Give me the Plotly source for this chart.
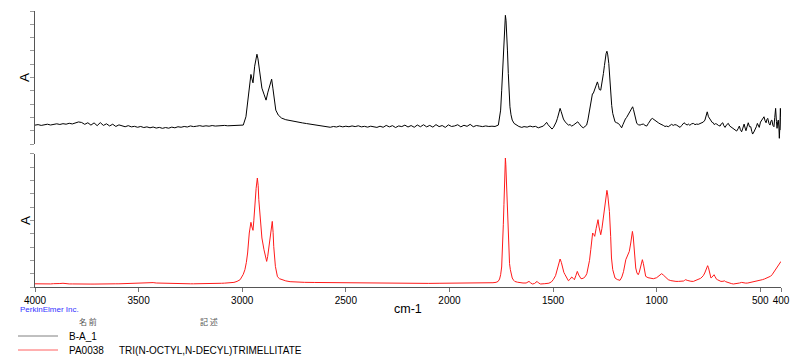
import plotly.graph_objects as go

# ---------------- data ----------------
# black spectrum (B-A_1), noisy baseline 4000-3010 cm-1 sampled every 15 cm-1
black_base1_wn = list(range(4000, 3009, -15))
black_base1_abs = [
    14.2, 14.6, 14.0, 14.5, 14.9, 14.3, 14.8, 15.2,
    14.7, 15.3, 14.9, 15.6, 15.1, 15.8, 16.6, 16.2,
    14.8, 16.0, 14.2, 15.9, 13.8, 16.1, 14.0, 15.2,
    13.6, 14.9, 13.2, 14.4, 13.5, 13.0, 13.8, 12.9,
    13.3, 12.6, 13.2, 12.4, 12.9, 12.2, 12.8, 12.0,
    12.5, 11.8, 12.4, 11.9, 12.7, 12.2, 13.0, 12.6,
    13.2, 12.8, 13.6, 13.1, 13.4, 13.8, 13.3, 13.7,
    13.4, 13.9, 13.5, 13.8, 13.6, 14.0, 13.7, 13.9,
    13.8, 14.0, 14.1,
]
black_ch = [
    (2995, 14.25), (2982, 20.5), (2971, 35.5), (2962, 49.3), (2958, 52.3), (2953, 49.0),
    (2948, 46.0), (2940, 58.5), (2933, 66.0), (2929, 67.5), (2924, 64.0), (2918, 56.0),
    (2912, 48.0), (2905, 42.0), (2895, 37.5), (2885, 33.0), (2876, 39.0), (2868, 44.0),
    (2858, 48.75), (2852, 42.0), (2845, 31.5), (2838, 25.5), (2826, 21.75), (2810, 19.5),
    (2790, 18.3), (2770, 17.6), (2750, 16.8), (2730, 16.3), (2710, 15.9), (2690, 15.4),
    (2670, 15.0), (2650, 14.6), (2630, 14.2), (2610, 13.4), (2590, 13.0),
]
black_base2_wn = list(range(2575, 1794, -15))
black_base2_abs = [
    12.6, 13.2, 12.8, 13.5, 12.9, 13.4, 13.0, 13.6,
    13.1, 13.7, 12.9, 13.3, 12.7, 13.4, 13.0, 12.5,
    13.4, 12.6, 14.0, 12.9, 13.8, 12.4, 13.6, 13.1,
    14.2, 12.8, 13.9, 12.6, 14.3, 13.0, 14.5, 12.9,
    14.0, 12.7, 14.6, 13.1, 13.9, 12.5, 14.4, 13.2,
    13.6, 14.5, 12.9, 14.1, 13.3, 14.8, 13.0, 13.9,
    13.5, 13.1, 13.6, 13.2, 13.4,
]
black_fp = [
    (1780, 13.2), (1764, 14.25), (1753, 25.5), (1748, 40.0), (1743, 58.0), (1739, 75.0),
    (1735, 88.0), (1730, 96.75), (1727, 93.0), (1724, 85.5), (1720, 70.0), (1716, 53.0),
    (1712, 38.0), (1708, 28.0), (1703, 22.0), (1697, 18.0), (1688, 15.5), (1676, 14.25),
    (1665, 13.2), (1651, 12.5), (1640, 13.1), (1625, 12.7), (1611, 13.5), (1598, 12.9),
    (1585, 13.3), (1571, 12.2), (1560, 12.9), (1547, 13.5), (1538, 15.0), (1531, 16.3),
    (1524, 14.5), (1518, 13.5), (1511, 12.0), (1505, 11.25), (1498, 12.5), (1491, 14.25),
    (1485, 16.5), (1479, 19.3), (1472, 24.0), (1466, 26.8), (1461, 24.5), (1457, 21.75),
    (1450, 18.8), (1442, 16.7), (1434, 15.3), (1426, 14.25), (1418, 14.6), (1410, 13.5),
    (1402, 14.2), (1394, 15.0), (1387, 16.0), (1381, 16.7), (1375, 15.5), (1370, 14.25),
    (1362, 13.0), (1354, 12.2), (1346, 13.0), (1338, 14.25), (1332, 18.0), (1325, 25.5),
    (1319, 32.0), (1314, 36.75), (1310, 37.8), (1306, 38.0), (1302, 39.5), (1298, 41.8),
    (1292, 44.5), (1286, 46.7), (1281, 44.0), (1277, 41.0), (1270, 40.5), (1264, 45.0),
    (1257, 53.0), (1252, 59.0), (1248, 64.3), (1244, 68.0), (1240, 69.75), (1236, 67.0),
    (1231, 60.5), (1226, 48.0), (1222, 38.0), (1217, 29.0), (1212, 23.0), (1206, 19.0),
    (1201, 16.7), (1193, 16.0), (1185, 15.5), (1177, 14.0), (1169, 12.2), (1163, 14.5),
    (1158, 16.7), (1151, 18.8), (1145, 20.0), (1137, 22.0), (1129, 24.2), (1122, 26.5),
    (1116, 28.0), (1112, 26.0), (1108, 23.0), (1102, 18.5), (1096, 15.5), (1088, 14.5),
    (1080, 14.25), (1072, 14.8), (1064, 15.0), (1056, 14.0), (1048, 13.5), (1040, 15.5),
    (1032, 18.0), (1026, 18.8), (1021, 19.3), (1015, 18.5), (1008, 17.5), (1000, 16.5),
    (992, 16.0), (984, 15.2), (976, 14.25), (968, 14.0), (960, 13.2), (952, 13.5),
    (944, 13.0), (936, 14.2), (928, 14.8), (920, 14.0), (912, 14.6), (904, 14.25),
    (896, 13.3), (887, 12.5), (880, 13.8), (874, 14.9), (868, 16.0), (860, 15.0),
    (853, 14.3), (847, 15.0), (840, 14.1), (831, 15.2), (823, 15.5), (815, 14.6),
    (807, 15.0), (799, 14.8), (791, 15.5), (783, 16.0), (775, 16.5), (767, 18.0),
    (761, 21.0), (756, 24.2), (750, 20.5), (743, 18.5), (737, 17.5), (732, 16.2),
    (727, 16.0), (722, 14.6), (716, 15.3), (710, 15.0), (702, 14.0), (694, 13.5),
    (688, 15.2), (681, 16.0), (676, 13.8), (670, 12.5), (662, 14.6), (654, 15.5),
    (648, 13.6), (643, 13.0), (636, 12.5), (630, 11.8), (622, 11.0), (614, 9.75),
    (607, 11.5), (601, 13.5), (596, 10.8), (590, 9.2), (584, 12.0), (578, 15.0),
    (573, 12.0), (569, 10.0), (563, 13.5), (558, 16.0), (552, 13.0), (546, 13.0),
    (541, 9.5), (537, 7.5), (531, 9.0), (525, 10.5), (519, 13.0), (514, 15.5),
    (509, 12.8), (505, 12.5), (499, 16.5), (493, 18.0), (487, 19.5), (482, 20.5),
    (477, 17.5), (472, 16.0), (468, 18.5), (464, 19.3), (458, 15.5), (453, 14.25),
    (448, 17.5), (444, 18.0), (439, 14.0), (434, 13.0), (430, 20.0), (426, 26.8),
    (422, 17.0), (419, 11.8), (416, 16.5), (413, 18.0), (410, 12.0), (408, 4.3),
    (405, 15.0), (403, 26.8), (401, 20.0), (400, 10.5),
]

# red spectrum (PA0038 library reference)
red_base1_wn = list(range(4000, 3009, -15))
red_base1_abs = [
    2.4, 2.3, 2.5, 2.2, 2.4, 2.3, 2.5, 2.4,
    2.6, 2.8, 2.4, 2.3, 2.3, 2.2, 2.3, 2.2,
    2.2, 2.3, 2.2, 2.2, 2.3, 2.2, 2.3, 2.2,
    2.3, 2.3, 2.4, 2.4, 2.5, 2.5, 2.6, 2.7,
    2.8, 2.9, 3.0, 3.2, 3.4, 3.45, 3.3, 3.0,
    2.9, 2.8, 2.8, 2.9, 2.8, 2.7, 2.6, 2.6,
    2.5, 2.5, 2.4, 2.4, 2.4, 2.3, 2.3, 2.4,
    2.4, 2.5, 2.6, 2.7, 2.8, 2.9, 3.0, 3.2,
    3.45, 4.2, 5.5,
]
red_rest = [
    (2995, 9.5), (2987, 13.0), (2980, 18.5), (2974, 25.5), (2966, 40.5), (2962, 46.0),
    (2958, 48.5), (2953, 45.0), (2948, 42.5), (2944, 50.0), (2939, 63.0), (2933, 74.0),
    (2927, 81.75), (2923, 76.0), (2920, 65.5), (2912, 45.5), (2905, 36.75), (2895, 28.0),
    (2888, 22.5), (2882, 19.2), (2877, 23.0), (2873, 28.0), (2866, 33.0), (2860, 41.7),
    (2855, 49.2), (2851, 41.0), (2848, 30.5), (2840, 15.5), (2830, 7.7), (2820, 6.2),
    (2810, 5.5), (2790, 4.6), (2769, 4.0), (2740, 3.7), (2700, 3.5), (2650, 3.4),
    (2600, 3.3), (2544, 3.2), (2500, 3.1), (2450, 3.0), (2400, 2.9), (2350, 2.9),
    (2300, 2.8), (2250, 2.8), (2200, 2.7), (2150, 2.8), (2100, 2.7), (2050, 2.8),
    (2000, 2.8), (1950, 2.9), (1900, 3.0), (1852, 3.0), (1820, 3.1), (1790, 3.2),
    (1775, 3.5), (1765, 4.2), (1758, 6.0), (1753, 9.2), (1748, 15.0), (1745, 24.0),
    (1742, 35.0), (1740, 46.7), (1737, 62.0), (1735, 76.7), (1732, 90.0), (1730, 96.75),
    (1728, 92.0), (1725, 80.5), (1722, 64.0), (1719, 46.7), (1716, 33.0), (1713, 24.0),
    (1710, 17.5), (1706, 13.0), (1702, 9.5), (1697, 6.75), (1690, 5.0), (1685, 4.2),
    (1672, 3.6), (1660, 3.2), (1645, 3.0), (1630, 3.0), (1622, 3.5), (1616, 4.2),
    (1609, 3.2), (1600, 2.25), (1590, 2.6), (1583, 3.4), (1577, 4.2), (1570, 3.0),
    (1560, 2.25), (1540, 2.5), (1520, 2.85), (1508, 3.8), (1499, 5.5), (1488, 8.5),
    (1478, 14.5), (1471, 19.0), (1466, 21.0), (1460, 18.5), (1455, 14.5), (1448, 11.0),
    (1442, 9.2), (1434, 6.5), (1426, 4.7), (1418, 5.8), (1410, 7.5), (1403, 6.5),
    (1397, 5.5), (1390, 8.5), (1383, 11.7), (1376, 9.0), (1370, 7.0), (1365, 6.2),
    (1355, 6.5), (1345, 7.7), (1337, 10.0), (1330, 14.25), (1324, 20.0), (1318, 28.0),
    (1313, 36.0), (1309, 40.5), (1304, 39.5), (1299, 38.0), (1292, 44.0), (1287, 49.0),
    (1283, 50.5), (1278, 45.0), (1274, 40.5), (1270, 39.2), (1264, 44.0), (1258, 51.75),
    (1252, 60.0), (1248, 64.2), (1244, 69.5), (1240, 72.5), (1236, 69.0), (1231, 61.7),
    (1228, 56.7), (1222, 38.0), (1218, 21.75), (1212, 13.0), (1206, 9.0), (1201, 6.75),
    (1190, 5.6), (1177, 5.0), (1168, 7.5), (1160, 11.5), (1149, 20.5), (1140, 23.5),
    (1132, 26.7), (1125, 33.0), (1120, 39.0), (1117, 41.7), (1113, 37.5), (1110, 31.7),
    (1105, 22.0), (1101, 14.25), (1095, 10.5), (1089, 9.2), (1084, 11.0), (1079, 14.5),
    (1073, 18.5), (1069, 20.5), (1064, 17.5), (1060, 14.5), (1056, 10.5), (1053, 8.0),
    (1042, 7.0), (1030, 6.6), (1016, 6.2), (1000, 7.0), (990, 8.5), (982, 9.6),
    (976, 10.0), (968, 9.0), (960, 7.7), (952, 6.5), (944, 5.5), (932, 4.8),
    (920, 4.35), (907, 4.2), (895, 4.2), (882, 4.3), (870, 4.5), (865, 5.0),
    (860, 5.5), (853, 5.0), (845, 4.5), (835, 4.3), (823, 4.2), (815, 4.6),
    (810, 5.2), (803, 5.6), (796, 6.0), (788, 6.5), (781, 7.5), (775, 8.5),
    (768, 10.5), (762, 13.0), (758, 15.0), (754, 16.0), (750, 14.5), (746, 11.5),
    (742, 8.5), (738, 6.75), (734, 7.2), (730, 8.1), (726, 9.0), (723, 9.2),
    (719, 8.0), (715, 6.5), (711, 5.8), (707, 5.5), (699, 4.8), (690, 4.2),
    (680, 4.3), (672, 4.6), (667, 4.0), (660, 3.5), (650, 2.85), (640, 2.6),
    (630, 2.25), (620, 2.4), (610, 2.6), (600, 3.0), (590, 3.45), (580, 3.1),
    (570, 2.9), (560, 3.0), (550, 3.3), (540, 3.8), (533, 4.2), (520, 4.5),
    (510, 4.8), (500, 5.1), (490, 5.5), (480, 6.0), (469, 6.75), (460, 7.3),
    (450, 8.1), (443, 9.2), (437, 10.5), (430, 12.0), (425, 13.0), (420, 14.1),
    (415, 15.3), (410, 16.7), (405, 18.0), (400, 19.2),
]

x_tick_vals = [4000, 3500, 3000, 2500, 2000, 1500, 1000, 500, 400]
x_tick_text = ["4000", "3500", "3000", "2500", "2000", "1500", "1000", "500", "400"]
y_tick_vals = [0, 10, 20, 30, 40, 50, 60, 70, 80, 90, 100]

legend_names = ["B-A_1", "PA0038"]
legend_descr = ["", "TRI(N-OCTYL,N-DECYL)TRIMELLITATE"]

# ---------------- assemble ----------------
black_wn = black_base1_wn + [p[0] for p in black_ch] + black_base2_wn + [p[0] for p in black_fp]
black_abs = black_base1_abs + [p[1] for p in black_ch] + black_base2_abs + [p[1] for p in black_fp]
red_wn = red_base1_wn + [p[0] for p in red_rest]
red_abs = red_base1_abs + [p[1] for p in red_rest]

FONT = "Liberation Sans, Arial, sans-serif"
CJK = "Noto Sans CJK JP, sans-serif"
BLACK = "#000000"
RED = "#ff1a1a"

# the page body has an 8px margin: figure is placed at (8, 8)
OFF = 8

fig = go.Figure()
fig.add_trace(go.Scatter(x=black_wn, y=black_abs, mode="lines",
                         line=dict(color=BLACK, width=1), xaxis="x2", yaxis="y2",
                         showlegend=False, hoverinfo="skip"))
fig.add_trace(go.Scatter(x=red_wn, y=red_abs, mode="lines",
                         line=dict(color=RED, width=1), xaxis="x", yaxis="y",
                         showlegend=False, hoverinfo="skip"))

yax = dict(range=[0, 100], showgrid=False, zeroline=False, showline=True,
           linecolor="#555555", linewidth=1, ticks="outside", ticklen=4,
           tickcolor="#9a9a9a", tickwidth=1, tickvals=y_tick_vals,
           showticklabels=False, fixedrange=True)

fig.update_layout(
    width=800 - OFF, height=359 - OFF,
    margin=dict(l=35 - OFF, r=19, t=11 - OFF, b=72, autoexpand=False),
    paper_bgcolor="white", plot_bgcolor="white",
    font=dict(family=FONT, color="#000000"),
    xaxis=dict(range=[4000, 400], domain=[0, 1], anchor="y", showgrid=False,
               zeroline=False, showline=True, linecolor="#555555", linewidth=1,
               ticks="outside", ticklen=4, tickcolor="#777777",
               tickvals=x_tick_vals, ticktext=x_tick_text,
               tickfont=dict(size=10, family=FONT, color="#000000")),
    xaxis2=dict(range=[4000, 400], domain=[0, 1], anchor="y2", matches="x",
                showgrid=False, zeroline=False, showline=False, ticks="",
                showticklabels=False),
    yaxis=dict(domain=[0, 0.483], anchor="x", **yax),
    yaxis2=dict(domain=[0.518, 1], anchor="x2", **yax),
)

W = 746.0
H = 276.0


def px(xp):
    return (xp - 35) / W


def py(yp):
    return (287 - yp) / H


annotations = [
    dict(text="A", x=px(25), y=py(78), textangle=-90, font=dict(size=13.5, family=FONT)),
    dict(text="A", x=px(25), y=py(221), textangle=-90, font=dict(size=13.5, family=FONT)),
    dict(text="cm-1", x=px(408), y=py(309), font=dict(size=12.5, family=FONT)),
    dict(text="PerkinElmer Inc.", x=px(49), y=py(309), font=dict(size=8, family=FONT, color="#3333ff")),
    dict(text="名 前", x=px(88), y=py(321), font=dict(size=8, family=CJK, color="#555555")),
    dict(text="記 述", x=px(209), y=py(321), font=dict(size=8, family=CJK, color="#555555")),
    dict(text=legend_names[0], x=px(67), y=py(336), xanchor="left", font=dict(size=10, family=FONT)),
    dict(text=legend_names[1], x=px(67), y=py(350), xanchor="left", font=dict(size=10, family=FONT)),
    dict(text=legend_descr[1], x=px(117), y=py(350), xanchor="left", font=dict(size=10, family=FONT)),
]
for a in annotations:
    a.setdefault("xanchor", "center")
    a.update(xref="paper", yref="paper", yanchor="middle", showarrow=False)
fig.update_layout(annotations=annotations)

fig.add_shape(type="line", xref="paper", yref="paper", x0=px(18), x1=px(58),
              y0=py(336), y1=py(336), line=dict(color="#808080", width=1))
fig.add_shape(type="line", xref="paper", yref="paper", x0=px(18), x1=px(58),
              y0=py(350), y1=py(350), line=dict(color="#ff6060", width=1))

fig.write_html("out.html")
